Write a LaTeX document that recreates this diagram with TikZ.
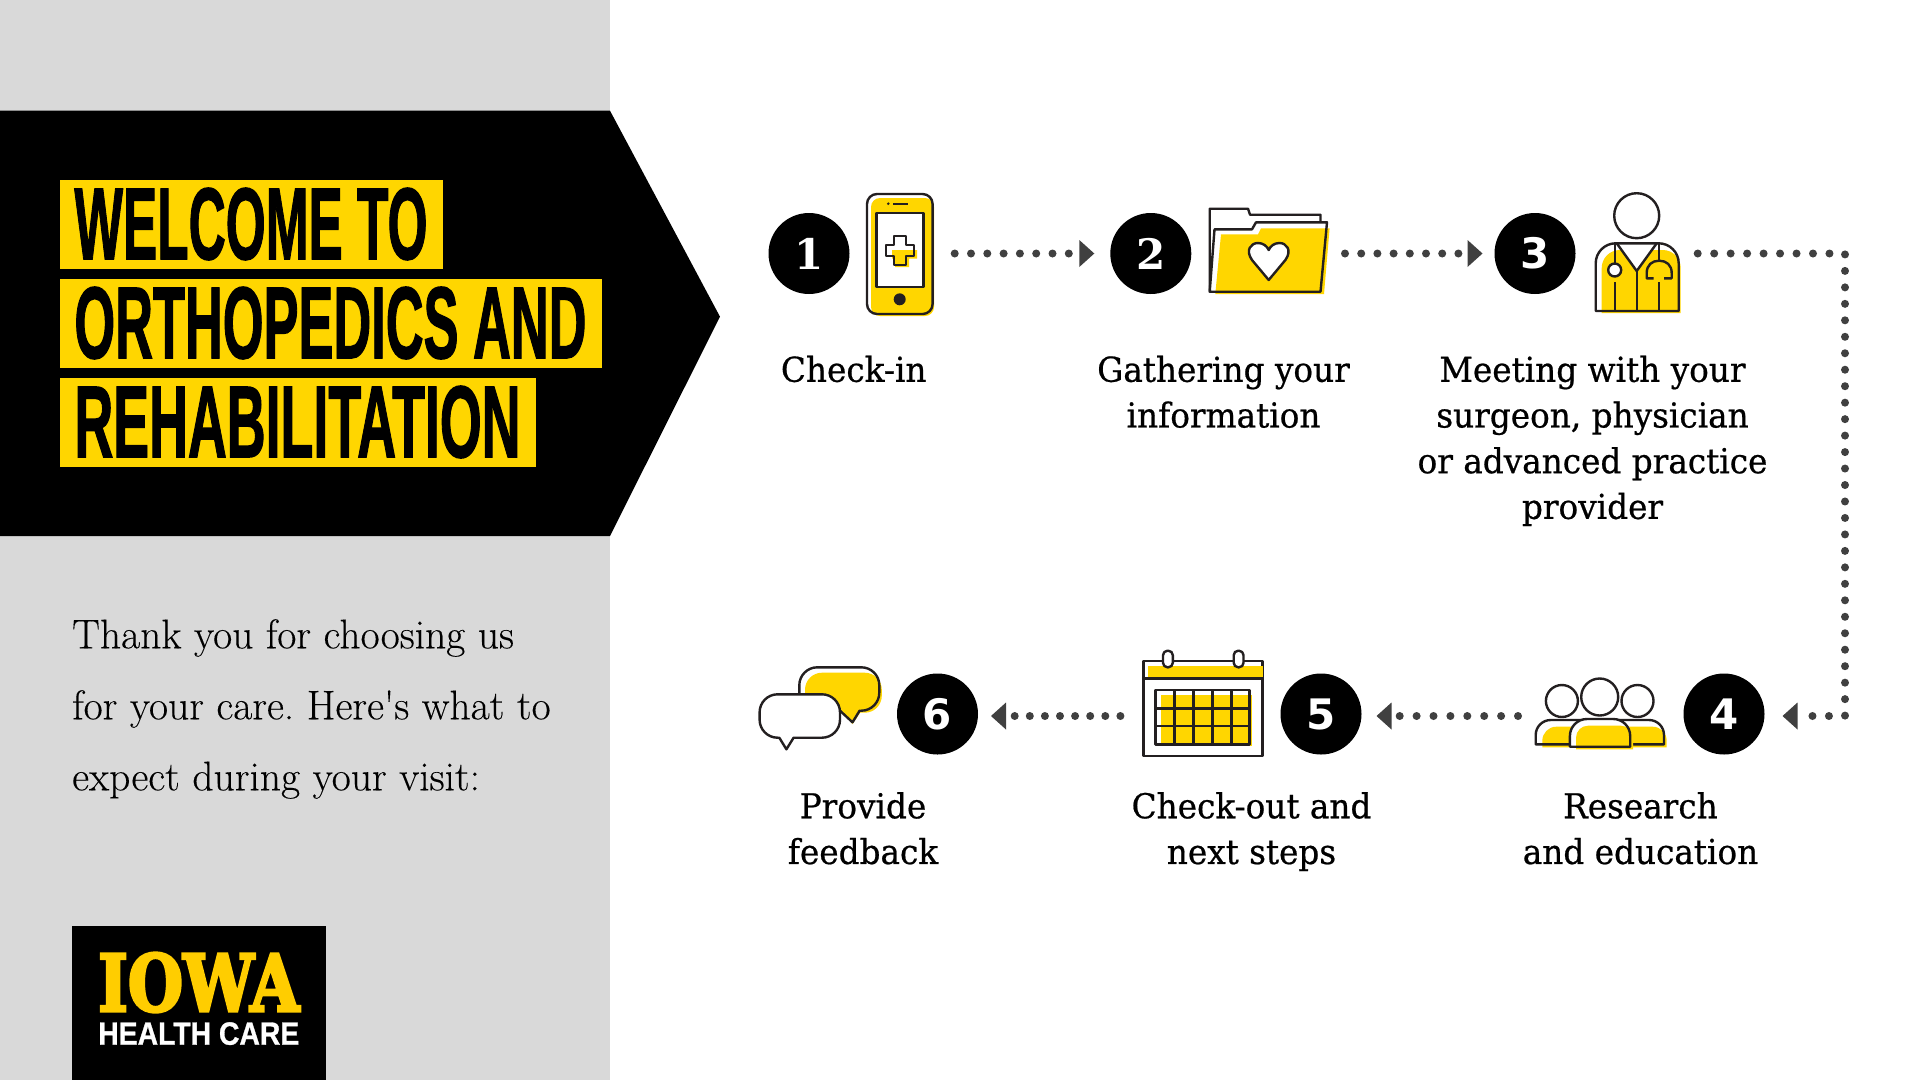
\documentclass[tikz,border=0pt]{standalone}
\usepackage{fontspec,graphicx}
\usetikzlibrary{arrows.meta}

\newfontfamily\titlefont[FakeBold=1.6]{Liberation Sans Bold}
\newfontfamily\logofont[FakeBold=4]{DejaVu Serif Bold}
\newfontfamily\logosans[FakeBold=1]{Liberation Sans Bold}
\newfontfamily\labelfont[FakeStretch=1.06,FakeBold=0.6]{DejaVu Serif Condensed}
\newfontfamily\introfont[FakeBold=0.2]{Latin Modern Roman}
\newfontfamily\numslab{DejaVu Serif Bold}
\newfontfamily\numsans{DejaVu Sans Bold}

\definecolor{panelgrey}{HTML}{D9D9D9}
\definecolor{titleyellow}{HTML}{FFD600}
\definecolor{logoyellow}{HTML}{FFCD00}
\definecolor{inkdark}{HTML}{231F20}
\definecolor{dotgrey}{HTML}{404040}

\tikzset{
    titlebar/.style={fill=titleyellow},
    titletext/.style={inner sep=0pt, text=black},
    stepnum/.style={circle, fill=black, text=white, minimum size=81pt, inner sep=0pt, outer sep=0pt},
    steplabel/.style={anchor=north, align=center, inner sep=0pt, font=\labelfont\fontsize{34.3}{45.7}\selectfont},
    ink/.style={draw=inkdark, line width=2.4pt, line join=round},
    dotline/.style={draw=dotgrey, line width=8pt, line cap=round, dash pattern=on 0pt off #1,
        -{Triangle[length=15pt, width=27pt, line width=0pt]}},
}

\begin{document}
\begin{tikzpicture}[x=1pt, y=-1pt]
    \useasboundingbox (0,0) rectangle (1920,1080);
    \fill [white] (0,0) rectangle (1920,1080);
    \fill [panelgrey] (0,0) rectangle (610,1080);
    \fill [black] (0,110.7) -- (610,110.7) -- (720,316.7) -- (610,536) -- (0,536) -- cycle;

    % title lines
    \draw [titlebar] (59,179) rectangle ++(384,90) node[midway, titletext] (title1) {\resizebox{353pt}{71pt}{\titlefont WELCOME TO}};
    \draw [titlebar] (59,278) rectangle ++(543,90) node[midway, titletext] (title2) {\resizebox{512pt}{71pt}{\titlefont ORTHOPEDICS AND}};
    \draw [titlebar] (59,377) rectangle ++(477,90) node[midway, titletext] (title3) {\resizebox{446pt}{71pt}{\titlefont REHABILITATION}};

    \node [anchor=north west, inner sep=0pt, align=left, font=\introfont\frenchspacing\fontsize{41.5}{71}\selectfont] (intro) at (72,619)
        {Thank you for choosing us\\for your care. Here's what to\\expect during your visit:};

    % logo
    \fill [black] (72,925.7) rectangle (326,1080);
    \node [titletext] (iowa) at (198.8,982.5) {\resizebox{201pt}{58pt}{\color{logoyellow}\logofont IOWA}};
    \node [titletext] (health) at (198.8,1033.6) {\resizebox{201pt}{22.5pt}{\color{white}\logosans HEALTH CARE}};

    % numbered steps
    \node [stepnum, font=\numslab\fontsize{42}{42}\selectfont] (step1) at (809,253.5) {1};
    \node [stepnum, font=\numslab\fontsize{42}{42}\selectfont] (step2) at (1150.8,253.5) {2};
    \node [stepnum, font=\numsans\fontsize{42}{42}\selectfont] (step3) at (1535,253.5) {3};
    \node [stepnum, font=\numsans\fontsize{42}{42}\selectfont] (step4) at (1724,714) {4};
    \node [stepnum, font=\numsans\fontsize{42}{42}\selectfont] (step5) at (1321,714) {5};
    \node [stepnum, font=\numsans\fontsize{42}{42}\selectfont] (step6) at (937.5,714) {6};

    \node [steplabel] (label1) at (853.7,355.5) {Check-in};
    \node [steplabel] (label2) at (1223.5,355.5) {Gathering your\\information};
    \node [steplabel] (label3) at (1592.5,355.5) {Meeting with your\\surgeon, physician\\or advanced practice\\provider};
    \node [steplabel] (label4) at (1640.5,792) {Research\\and education};
    \node [steplabel] (label5) at (1251.5,792) {Check-out and\\next steps};
    \node [steplabel] (label6) at (863,792) {Provide\\feedback};

    % connectors
    \coordinate (out1) at (954.7,253.5);
    \coordinate (out2) at (1345,253.5);
    \coordinate (out3) at (1697.7,253.5);
    \coordinate (turn3) at (1845,253.5);
    \coordinate (turn4) at (1845,716);
    \coordinate (out4) at (1518,716);
    \coordinate (out5) at (1120.4,716);
    \draw [dotline=16.3pt, shorten >=16pt] (out1) -- (step2);
    \draw [dotline=16.2pt, shorten >=12pt] (out2) -- (step3);
    \draw [dotline=16.47pt, shorten >=18pt] (out3) -- (turn3) -- (turn4) -- (turn4 -| step4.east);
    \draw [dotline=16.9pt, shorten >=15pt] (out4) -- (out4 -| step5.east);
    \draw [dotline=15.1pt, shorten >=13pt] (out5) -- (out5 -| step6.east);

    % phone
    \fill [titleyellow, rounded corners=9pt] (871,198) rectangle (934,316);
    \draw [ink, rounded corners=10pt] (867,194) rectangle (932.6,314);
    \draw [ink, fill=white] (876.4,212.7) rectangle (923.5,287);
    \fill [inkdark] (899.7,299.3) circle [radius=6];
    \draw [ink] (893.4,203.7) -- (907.6,203.7);
    \fill [inkdark] (888.3,203.7) circle [radius=1.4];
    \fill [titleyellow] (892,250) -- (917,250) -- (917,258.5) -- (909,258.5) -- (909,267) -- (895,267) -- (895,258.5) -- (892,258.5) -- cycle;
    \draw [ink] (894,236) -- (906,236) -- (906,245) -- (914,245) -- (914,256) -- (906,256) -- (906,265) -- (894,265) -- (894,256) -- (886,256) -- (886,245) -- (894,245) -- cycle;

    % folder
    \draw [ink] (1209.7,291.7) -- (1209.7,208.7) -- (1248,208.7) -- (1250,214.7) -- (1320.5,214.7) -- (1320.5,222.3);
    \fill [titleyellow] (1221,234.3) -- (1258,234.3) -- (1261,228.3) -- (1329.6,228.3) -- (1324,294) -- (1215.3,294) -- cycle;
    \draw [ink] (1209.7,291.7) -- (1214.5,229.3) -- (1252,229.3) -- (1256,222.3) -- (1327,222.3) -- (1320.5,291.7) -- cycle;
    \draw [ink, fill=white] (1268.7,280) -- (1252,260) .. controls (1245,250) and (1251,243) .. (1258,243) .. controls (1263,243) and (1267,246) .. (1268.7,250) .. controls (1270.4,246) and (1274.4,243) .. (1279.4,243) .. controls (1286.4,243) and (1292.4,250) .. (1285.4,260) -- cycle;

    % doctor
    \draw [ink] (1636.7,215.7) circle [radius=22.5];
    \fill [titleyellow] (1601.7,313) [rounded corners=18pt] -- (1601.7,250) -- (1680.7,250) [sharp corners] -- (1680.7,313) -- cycle;
    \fill [white] (1616.7,243) -- (1636.7,271) -- (1656.7,243) -- cycle;
    \draw [ink] (1595.7,311) [rounded corners=20pt] -- (1595.7,243.3) -- (1678.7,243.3) [sharp corners] -- (1678.7,311) -- cycle;
    \draw [ink] (1616.7,243.3) -- (1636.7,271) -- (1656.7,243.3);
    \draw [ink] (1636.7,271) -- (1636.7,311);
    \draw [ink] (1614.7,243.3) -- (1614.7,263.5);
    \draw [ink, fill=white] (1614.7,270) circle [radius=6.5];
    \draw [ink] (1614.7,282) -- (1614.7,311);
    \draw [ink] (1659,243.3) -- (1659,260.7);
    \draw [ink] (1653.5,278.3) -- (1646.7,278.3) -- (1646.7,273) .. controls (1646.7,265) and (1652,260.7) .. (1659.2,260.7) .. controls (1666.4,260.7) and (1671.7,265) .. (1671.7,273) -- (1671.7,278.3) -- (1664,278.3);
    \draw [ink] (1659,282) -- (1659,311);

    % group of people
    \fill [titleyellow] (1542.3,747.3) [rounded corners=14pt] -- (1542.3,726.7) -- (1666.7,726.7) [sharp corners] -- (1666.7,747.3) -- cycle;
    \draw [ink] (1561.9,701) circle [radius=16];
    \draw [ink] (1637.5,701) circle [radius=16];
    \draw [ink] (1599.7,697) circle [radius=18.5];
    \draw [ink] (1535.7,744.3) [rounded corners=15pt] -- (1535.7,720) -- (1664,720) [sharp corners] -- (1664,744.3) -- cycle;
    \fill [white] (1569.9,746.7) [rounded corners=17pt] -- (1569.9,719) -- (1630.2,719) [sharp corners] -- (1630.2,746.7) -- cycle;
    \fill [titleyellow] (1576,749.3) [rounded corners=12pt] -- (1576,725.7) -- (1633,725.7) [sharp corners] -- (1633,749.3) -- cycle;
    \draw [ink] (1569.9,746.7) [rounded corners=17pt] -- (1569.9,719) -- (1630.2,719) [sharp corners] -- (1630.2,746.7) -- cycle;

    % calendar
    \draw [ink] (1143.6,660.7) rectangle (1262.5,756);
    \fill [titleyellow] (1148,665.7) rectangle (1262.5,678.3);
    \draw [ink] (1143.6,678.3) -- (1262.5,678.3);
    \draw [ink, fill=white, rounded corners=4.5pt] (1163,650.7) rectangle (1172.8,667.3);
    \draw [ink, fill=white, rounded corners=4.5pt] (1233.7,650.7) rectangle (1243.5,667.3);
    \fill [titleyellow] (1161.4,695) rectangle (1251.8,746);
    \draw [ink] (1155.4,690) rectangle (1249.6,744.3);
    \foreach \gridx in {1174.3,1193.6,1212.5,1231.4}
        \draw [ink] (\gridx,690) -- (\gridx,744.3);
    \foreach \gridy in {708.3,726}
        \draw [ink] (1155.4,\gridy) -- (1249.6,\gridy);

    % speech bubbles
    \fill [titleyellow, rounded corners=17pt] (805,672.7) rectangle (881.8,712.7);
    \fill [titleyellow] (840,710) -- (852.5,724) -- (862,710) -- cycle;
    \draw [ink] (840,710.7) -- (852.5,722.3) -- (859.6,710.7) [rounded corners=18pt] -- (879.3,710.7) -- (879.3,667.3) -- (799.3,667.3) -- (799.3,700);
    \draw [ink, fill=white] (779.3,737.7) -- (786.4,749.3) -- (793.6,737.7) [rounded corners=18pt] -- (840,737.7) -- (840,694.3) -- (759.6,694.3) -- (759.6,737.7) [sharp corners] -- cycle;
\end{tikzpicture}
\end{document}
